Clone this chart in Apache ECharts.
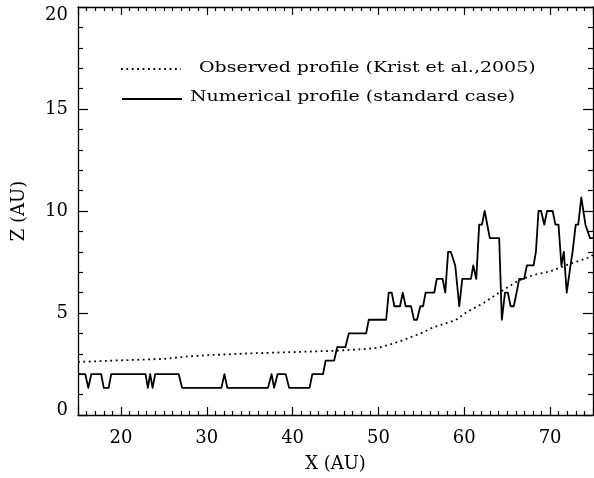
<!DOCTYPE html>
<html>
<head>
<meta charset="utf-8">
<script src="https://cdn.jsdelivr.net/npm/echarts@6/dist/echarts.min.js"></script>
<style>
html,body{margin:0;padding:0;background:#fff;}
#c{width:594px;height:478px;}
</style>
</head>
<body>
<div id="c"></div>
<script>
// Numerical profile (standard case): vertices
var numX = [15.0, 15.85, 16.2, 16.55, 17.7, 18.0, 18.57, 18.87, 22.87, 23.14, 23.41, 23.69, 23.99,
  26.74, 27.13, 31.71, 32.06, 32.4, 37.13, 37.55, 37.85, 38.25, 39.2, 39.6, 41.98, 42.3,
  43.55, 43.85, 44.85, 45.2, 46.16, 46.55, 48.57, 48.88, 50.9, 51.2, 51.55, 51.86, 52.52,
  52.83, 53.18, 53.8, 54.15, 54.5, 54.88, 55.2, 55.5, 56.51, 56.8, 57.48, 57.79, 58.12,
  58.43, 58.95, 59.42, 59.77, 60.78, 61.05, 61.4, 61.74, 62.06, 62.38, 62.98, 64.07, 64.38,
  64.75, 65.08, 65.4, 65.77, 66.1, 66.4, 66.98, 67.3, 68.08, 68.35, 68.65, 68.95, 69.33,
  69.65, 70.3, 70.62, 70.98, 71.32, 71.6, 71.94, 72.38, 72.62, 72.99, 73.28, 73.64, 74.12,
  74.65, 75.0];
var numZ = [2, 2, 1.33, 2, 2, 1.33, 1.33, 2, 2, 1.33, 2, 1.33, 2,
  2, 1.33, 1.33, 2, 1.33, 1.33, 2, 1.33, 2, 2, 1.33, 1.33, 2,
  2, 2.67, 2.67, 3.33, 3.33, 4, 4, 4.67, 4.67, 6, 6, 5.33, 5.33,
  6, 5.33, 5.33, 4.67, 4.67, 5.33, 5.33, 6, 6, 6.67, 6.67, 6, 8,
  8, 7.33, 5.33, 6.67, 6.67, 7.33, 6.67, 9.33, 9.33, 10, 8.67, 8.67, 4.67,
  6, 6, 5.33, 5.33, 6, 6.67, 6.67, 7.33, 7.33, 8, 10, 10, 9.33,
  10, 10, 9.33, 9.33, 7.33, 8, 6, 7.33, 8, 9.33, 9.33, 10.67, 9.33,
  8.67, 8.67];

// Observed profile (Krist et al., 2005)
var obsX = [15, 20, 25, 27.8, 30, 35, 39.65, 45, 48, 50, 51.28, 52.44, 55.15, 56.3, 59.03,
  60.2, 62.3, 62.9, 64.07, 66.2, 67.94, 70.08, 71.8, 74.73, 75];
var obsZ = [2.6, 2.68, 2.75, 2.87, 2.93, 3.02, 3.08, 3.15, 3.22, 3.3, 3.45, 3.6, 4.04, 4.28, 4.66,
  5.02, 5.5, 5.67, 6.0, 6.56, 6.85, 7.05, 7.33, 7.75, 7.85];

var legendLabels = ['Observed profile (Krist et al.,2005)', 'Numerical profile (standard case)'];
var xName = 'X (AU)';
var yName = 'Z (AU)';

function zip(a, b) { return a.map(function (v, i) { return [v, b[i]]; }); }

var FONT = 'DejaVu Serif';
var chart = echarts.init(document.getElementById('c'), null, {renderer: 'canvas'});

var axisLineStyle = {color: '#000', width: 1.3};

chart.setOption({
  backgroundColor: '#fff',
  animation: false,
  grid: {left: 78, right: 1, top: 7, bottom: 62, containLabel: false},
  xAxis: [{
    type: 'value', min: 15, max: 75, splitNumber: 6, position: 'bottom',
    axisLine: {show: true, onZero: false, lineStyle: axisLineStyle},
    axisTick: {show: true, inside: true, length: 8, lineStyle: {color: '#000', width: 1.2}},
    minorTick: {show: true, splitNumber: 10, length: 4, lineStyle: {color: '#000', width: 1.2}},
    splitLine: {show: false},
    axisLabel: {show: true, showMinLabel: false, showMaxLabel: false, margin: 14,
      color: '#000', fontFamily: FONT, fontSize: 18},
    name: xName, nameLocation: 'middle', nameGap: 40,
    nameTextStyle: {color: '#000', fontFamily: FONT, fontSize: 18}
  }, {
    type: 'value', min: 15, max: 75, splitNumber: 6, position: 'top',
    axisLine: {show: true, onZero: false, lineStyle: axisLineStyle},
    axisTick: {show: true, inside: true, length: 8, lineStyle: {color: '#000', width: 1.2}},
    minorTick: {show: true, splitNumber: 10, length: 4, lineStyle: {color: '#000', width: 1.2}},
    splitLine: {show: false},
    axisLabel: {show: false}
  }],
  yAxis: [{
    type: 'value', min: 0, max: 20, interval: 5, position: 'left',
    axisLine: {show: true, onZero: false, lineStyle: axisLineStyle},
    axisTick: {show: true, inside: true, length: 10, lineStyle: {color: '#000', width: 1.2}},
    minorTick: {show: true, splitNumber: 5, length: 5, lineStyle: {color: '#000', width: 1.2}},
    splitLine: {show: false},
    axisLabel: {show: true, margin: 10, color: '#000', fontFamily: FONT, fontSize: 18,
      formatter: function (v) {
        if (v === 0) return '{lo|0}';
        if (v === 20) return '{hi|20}';
        return String(v);
      },
      rich: {
        lo: {fontFamily: FONT, fontSize: 18, color: '#000', padding: [0, 0, 10, 0]},
        hi: {fontFamily: FONT, fontSize: 18, color: '#000', padding: [16, 0, 0, 0]}
      }
    },
    name: yName, nameLocation: 'middle', nameGap: 50,
    nameTextStyle: {color: '#000', fontFamily: FONT, fontSize: 18}
  }, {
    type: 'value', min: 0, max: 20, interval: 5, position: 'right',
    axisLine: {show: true, onZero: false, lineStyle: axisLineStyle},
    axisTick: {show: true, inside: true, length: 10, lineStyle: {color: '#000', width: 1.2}},
    minorTick: {show: true, splitNumber: 5, length: 5, lineStyle: {color: '#000', width: 1.2}},
    splitLine: {show: false},
    axisLabel: {show: false}
  }],
  series: [{
    name: legendLabels[0], type: 'line', xAxisIndex: 0, yAxisIndex: 0,
    data: zip(obsX, obsZ), showSymbol: false, symbol: 'none', smooth: false,
    lineStyle: {color: '#000', width: 1.8, type: [1.8, 3.6]}
  }, {
    name: legendLabels[1], type: 'line', xAxisIndex: 0, yAxisIndex: 0,
    data: zip(numX, numZ), showSymbol: false, symbol: 'none', smooth: false,
    lineStyle: {color: '#000', width: 1.8, join: 'round'}
  }],
  graphic: [
    {type: 'line', shape: {x1: 121, y1: 69, x2: 181, y2: 69},
      style: {stroke: '#000', lineWidth: 1.8, lineDash: [1.8, 3.6]}},
    {type: 'text', x: 199, y: 68, scaleX: 1.265,
      style: {text: legendLabels[0], fill: '#000', font: '15px "DejaVu Serif"', verticalAlign: 'middle', align: 'left'}},
    {type: 'line', shape: {x1: 122, y1: 99, x2: 182, y2: 99},
      style: {stroke: '#000', lineWidth: 1.8}},
    {type: 'text', x: 190, y: 97, scaleX: 1.265,
      style: {text: legendLabels[1], fill: '#000', font: '15px "DejaVu Serif"', verticalAlign: 'middle', align: 'left'}}
  ]
});
</script>
</body>
</html>
